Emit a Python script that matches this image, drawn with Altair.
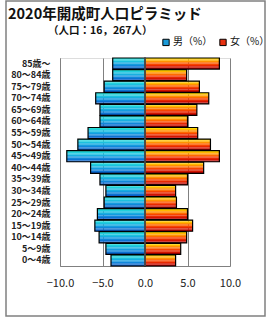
import altair as alt
import pandas as pd

ages = ["85歳～", "80～84歳", "75～79歳", "70～74歳", "65～69歳", "60～64歳",
        "55～59歳", "50～54歳", "45～49歳", "40～44歳", "35～39歳", "30～34歳",
        "25～29歳", "20～24歳", "15～19歳", "10～14歳", "5～9歳", "0～4歳"]
male = [3.8, 3.8, 4.8, 5.8, 5.3, 5.3, 6.7, 7.9, 9.2, 6.4, 5.3, 4.6, 4.8, 5.6, 5.9, 5.4, 4.6, 4.0]
female = [8.75, 4.9, 6.4, 7.5, 6.1, 5.0, 6.2, 7.7, 8.75, 6.9, 5.0, 3.6, 3.7, 5.0, 5.6, 4.9, 4.2, 3.6]
sexes = ["男（%）", "女（%）"]
x_ticks = [-10, -5, 0, 5, 10]
title_text = "2020年開成町人口ピラミッド"
subtitle_text = "（人口：16，267人）"

# shading bands (top -> bottom) imitating the gradient fill of each bar
male_shades = ["#26ded6", "#21d0db", "#1cc1df", "#18afe0", "#149ce0", "#1087da", "#0c72d2", "#0a5ec8"]
female_shades = ["#ffd800", "#ffb800", "#ff9200", "#ff6a00", "#f84400", "#e82800", "#d21400", "#b80000"]

rows = []
for a, m, f in zip(ages, male, female):
    rows.append({"age": a, "sex": sexes[0], "value": -m})
    rows.append({"age": a, "sex": sexes[1], "value": f})
df = pd.DataFrame(rows)

strip_rows = []
for r, sx in zip(rows, [x["sex"] for x in rows]):
    shades = male_shades if sx == sexes[0] else female_shades
    for k, c in enumerate(shades):
        strip_rows.append({"age": r["age"], "value": r["value"], "strip": k, "shade": c})
strip_df = pd.DataFrame(strip_rows)

FONT = "Noto Sans CJK JP"
GRAY = "#808080"

x_enc = alt.X("value:Q",
              scale=alt.Scale(domain=[-10, 10], nice=False, zero=False),
              axis=alt.Axis(values=x_ticks, format=".1f", title=None, grid=True,
                            gridColor=GRAY, domainColor=GRAY, ticks=False,
                            labelFlush=False, labelOverlap=False,
                            labelPadding=11, labelFontSize=11, labelColor="#222",
                            labelFont=FONT))
y_scale = alt.Scale(paddingInner=0.04, paddingOuter=0.0)
y_enc = alt.Y("age:N", sort=ages, scale=y_scale,
              axis=alt.Axis(title=None, ticks=False, domainColor=GRAY,
                            labelFontWeight="bold", labelFontSize=9,
                            labelColor="#222", labelPadding=10, labelFont=FONT))

legend_layer = alt.Chart(df).mark_bar(opacity=0).encode(
    x=x_enc, y=y_enc,
    color=alt.Color("sex:N", sort=sexes,
                    scale=alt.Scale(domain=sexes, range=["#1a9ad8", "#e83010"]),
                    legend=alt.Legend(title=None, orient="none", direction="horizontal",
                                      legendX=101, legendY=-21, symbolType="square",
                                      symbolSize=40, symbolStrokeColor="black",
                                      symbolStrokeWidth=1, symbolOpacity=1,
                                      labelFontSize=10,
                                      labelFont=FONT, labelColor="#111",
                                      labelOffset=2, columnPadding=4, padding=0))
)

strips = alt.Chart(strip_df).mark_bar().encode(
    x=x_enc, y=y_enc,
    yOffset=alt.YOffset("strip:O", scale=alt.Scale(paddingInner=0, paddingOuter=0)),
    fill=alt.Fill("shade:N", scale=None, legend=None)
)

outline = alt.Chart(df).mark_bar(fill=None, stroke="black", strokeWidth=1.2).encode(
    x=x_enc, y=y_enc)

zero_df = pd.DataFrame({"value": [0]})
zero_rule = alt.Chart(zero_df).mark_rule(color=GRAY, strokeWidth=1).encode(x="value:Q")

frame = alt.Chart(pd.DataFrame({"k": [0]})).mark_rect(
    fill=None, stroke=GRAY, strokeWidth=1.5).encode(
    x=alt.value(-54), x2=alt.value(205), y=alt.value(-57), y2=alt.value(258))

title_df = pd.DataFrame({"t": [title_text]})
title_mark = alt.Chart(title_df).mark_text(
    font=FONT, fontSize=14.5, fontWeight="bold", color="#111", align="left",
    baseline="alphabetic").encode(text="t:N", x=alt.value(-52), y=alt.value(-39))
sub_df = pd.DataFrame({"t": [subtitle_text]})
sub_mark = alt.Chart(sub_df).mark_text(
    font=FONT, fontSize=10.5, fontWeight="bold", color="#111", align="left",
    baseline="alphabetic").encode(text="t:N", x=alt.value(-12), y=alt.value(-24))

chart = alt.layer(legend_layer, strips, outline, zero_rule, frame, title_mark, sub_mark
).resolve_scale(color="independent", fill="independent").properties(
    width=170, height=208,
    autosize=alt.AutoSizeParams(type="none"),
    padding={"left": 60, "top": 58, "right": 40, "bottom": 54}
).configure_view(stroke=None).configure(background="white")

chart.save("out.html", embed_options={"renderer": "svg", "actions": False})
